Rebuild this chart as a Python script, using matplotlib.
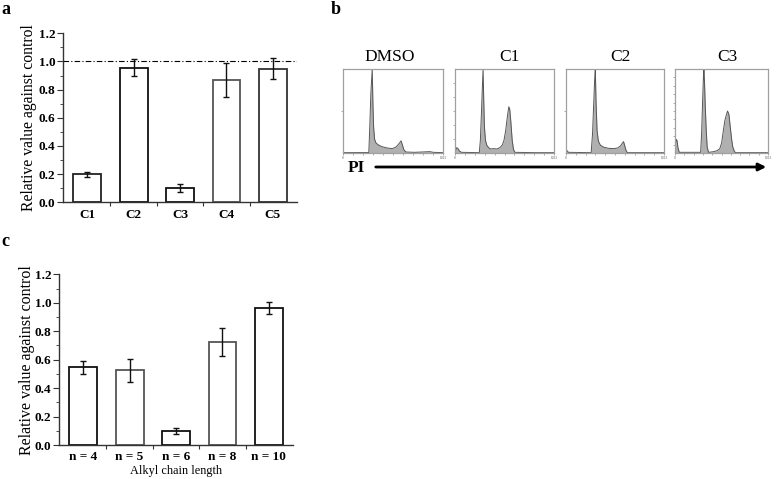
import matplotlib
matplotlib.use("Agg")
import matplotlib.pyplot as plt
from matplotlib.patches import FancyArrowPatch
from matplotlib.ticker import MultipleLocator, FixedLocator

plt.rcParams['font.family'] = ['Liberation Serif', 'DejaVu Serif']

# ---------------- data ----------------
a_categories = ["C1", "C2", "C3", "C4", "C5"]
a_values = [0.20, 0.955, 0.10, 0.866, 0.95]
a_errors = [0.018, 0.06, 0.03, 0.12, 0.077]

c_categories = ["n = 4", "n = 5", "n = 6", "n = 8", "n = 10"]
c_values = [0.545, 0.524, 0.10, 0.725, 0.961]
c_errors = [0.043, 0.078, 0.022, 0.10, 0.041]

y_ticks = [0.0, 0.2, 0.4, 0.6, 0.8, 1.0, 1.2]
y_ticklabels = ["0.0", "0.2", "0.4", "0.6", "0.8", "1.0", "1.2"]

hist_titles = ["DMSO", "C1", "C2", "C3"]
dmso_x = [0, 257, 264, 274, 285, 299, 306, 313, 323, 337, 362, 397, 450, 503, 538, 562, 584, 594, 608, 622, 643, 731, 889, 924, 1023]
dmso_y = [0.004, 0.005, 0.005, 0.31, 0.71, 1.0, 0.59, 0.31, 0.165, 0.12, 0.096, 0.076, 0.06, 0.052, 0.068, 0.096, 0.128, 0.145, 0.096, 0.04, 0.012, 0.008, 0.016, 0.008, 0.004]
c1_x = [3.5, 17.7, 31.9, 46, 67, 251, 262, 273, 283, 290, 297, 304, 315, 329, 347, 365, 400, 435, 464, 489, 506, 524, 542, 556, 566, 577, 591, 605, 619, 825, 1023]
c1_y = [0.012, 0.064, 0.052, 0.024, 0.008, 0.004, 0.15, 0.47, 0.79, 1.0, 0.63, 0.31, 0.15, 0.092, 0.064, 0.048, 0.052, 0.048, 0.064, 0.096, 0.15, 0.27, 0.44, 0.55, 0.52, 0.37, 0.15, 0.04, 0.008, 0.004, 0.004]
c2_x = [0, 11, 25, 263, 277, 288, 299, 306, 313, 324, 338, 360, 396, 443, 497, 540, 569, 590, 601, 612, 626, 641, 1023]
c2_y = [0.008, 0.028, 0.008, 0.004, 0.23, 0.55, 0.87, 1.0, 0.63, 0.27, 0.14, 0.092, 0.068, 0.056, 0.052, 0.06, 0.084, 0.12, 0.135, 0.092, 0.032, 0.004, 0.004]
c3_x = [0, 7, 14, 22, 33, 47, 282, 293, 304, 313, 318, 325, 333, 343, 354, 369, 427, 463, 492, 513, 531, 549, 564, 578, 593, 607, 622, 636, 654, 669, 1023]
c3_y = [0.004, 0.12, 0.16, 0.15, 0.06, 0.008, 0.008, 0.24, 0.63, 0.91, 1.0, 0.83, 0.55, 0.28, 0.07, 0.008, 0.016, 0.028, 0.05, 0.12, 0.26, 0.39, 0.45, 0.50, 0.46, 0.32, 0.17, 0.07, 0.016, 0.004, 0.004]
hist_x = [dmso_x, c1_x, c2_x, c3_x]
hist_y = [dmso_y, c1_y, c2_y, c3_y]

W, H = 777, 479
fig = plt.figure(figsize=(W / 100, H / 100), dpi=100)


def px_axes(x0, y0, x1, y1):
    return fig.add_axes([x0 / W, 1 - y1 / H, (x1 - x0) / W, (y1 - y0) / H])


def bar_panel(ax, cats, vals, errs, edgecolors, xpad):
    pos = list(range(1, len(cats) + 1))
    ax.bar(pos, vals, width=0.6, color="white", edgecolor=edgecolors, linewidth=1.3, zorder=2)
    ax.errorbar(pos, vals, yerr=errs, fmt="none", ecolor="#111111", elinewidth=1.0,
                capsize=2.5, capthick=1.0, zorder=3)
    ax.set_xlim(0.48, len(cats) + 0.52)
    ax.set_ylim(0, 1.2)
    for s in ["top", "right"]:
        ax.spines[s].set_visible(False)
    for s in ["left", "bottom"]:
        ax.spines[s].set_color("#333333")
        ax.spines[s].set_linewidth(1.0)
    ax.set_yticks(y_ticks)
    ax.set_yticklabels(y_ticklabels, fontsize=9.5, fontweight="bold")
    ax.yaxis.set_minor_locator(MultipleLocator(0.1))
    ax.tick_params(axis="y", which="major", length=4, width=0.8, direction="out", pad=1.5, colors="#333333", labelcolor="black")
    ax.tick_params(axis="y", which="minor", length=2, width=0.6, direction="out", colors="#333333")
    ax.set_xticks(pos)
    ax.set_xticklabels(cats, fontsize=9.5, fontweight="bold")
    ax.xaxis.set_minor_locator(FixedLocator([p + 0.5 for p in pos[:-1]]))
    ax.tick_params(axis="x", which="major", length=0, pad=xpad)
    ax.tick_params(axis="x", which="minor", length=3, width=0.8, direction="out", colors="#333333")


# ---------------- panel a ----------------
ax_a = px_axes(63, 33.3, 297, 202.3)
bar_panel(ax_a, a_categories, a_values, a_errors,
          ["#222222", "#111111", "#111111", "#555555", "#333333"], 4.5)
ax_a.axhline(1.0, color="black", lw=0.8, linestyle=(0, (5, 2, 1, 2)), zorder=1)
ax_a.set_ylabel("Relative value against control", fontsize=11.3, labelpad=1)

# ---------------- panel c ----------------
ax_c = px_axes(59, 274.3, 293, 445)
bar_panel(ax_c, c_categories, c_values, c_errors,
          ["#111111", "#555555", "#111111", "#555555", "#111111"], 4)
ax_c.set_ylabel("Relative value against control", fontsize=11.5, labelpad=0)
ax_c.set_xlabel("Alkyl chain length", fontsize=8.8, labelpad=1.5)

# ---------------- panel b ----------------
boxes = [(343, 443), (455, 554), (566, 664), (675, 768)]
left_ticks = [[0.5], [0.17, 0.33, 0.5, 0.67, 0.83], [0.5], [0.1, 0.2, 0.3, 0.4, 0.5, 0.6, 0.7, 0.8, 0.9]]
title_centers = [390, 509, 620, 727]
for i, (x0, x1) in enumerate(boxes):
    ax = px_axes(x0, 69, x1, 153)
    ax.fill_between(hist_x[i], hist_y[i], 0, color="#b0b0b0", lw=0)
    ax.plot(hist_x[i], hist_y[i], color="#555555", lw=0.7)
    ax.set_xlim(0, 1023)
    ax.set_ylim(0, 1.0)
    for s in ax.spines.values():
        s.set_color("#a0a0a0")
        s.set_linewidth(0.9)
    ax.set_xticks([0, 1023])
    ax.set_xticklabels(["0", "1023"], fontsize=2.5, color="#555555")
    ax.xaxis.set_minor_locator(MultipleLocator(102.3))
    ax.set_yticks(left_ticks[i])
    ax.set_yticklabels([])
    ax.tick_params(axis="both", which="both", length=1.5, width=0.5, colors="#888888", pad=0.5)
    ax.tick_params(axis="x", labelcolor="#555555")
    fig.text(title_centers[i] / W, 1 - 57 / H, hist_titles[i], fontsize=12.5,
             ha="center", va="center")

fig.text(348 / W, 1 - 168 / H, "PI", fontsize=12.5, fontweight="bold", ha="left", va="center")
arrow = FancyArrowPatch((373 / W, 1 - 167 / H), (769 / W, 1 - 167 / H),
                        transform=fig.transFigure, arrowstyle="-|>", mutation_scale=11,
                        lw=2.0, color="black")
fig.add_artist(arrow)

# panel letters
fig.text(1 / W, 1 - 10 / H, "a", fontsize=13, fontweight="bold", ha="left", va="center")
fig.text(331 / W, 1 - 9 / H, "b", fontsize=13, fontweight="bold", ha="left", va="center")
fig.text(1 / W, 1 - 242 / H, "c", fontsize=13, fontweight="bold", ha="left", va="center")

fig.savefig("out.png", dpi=100)
